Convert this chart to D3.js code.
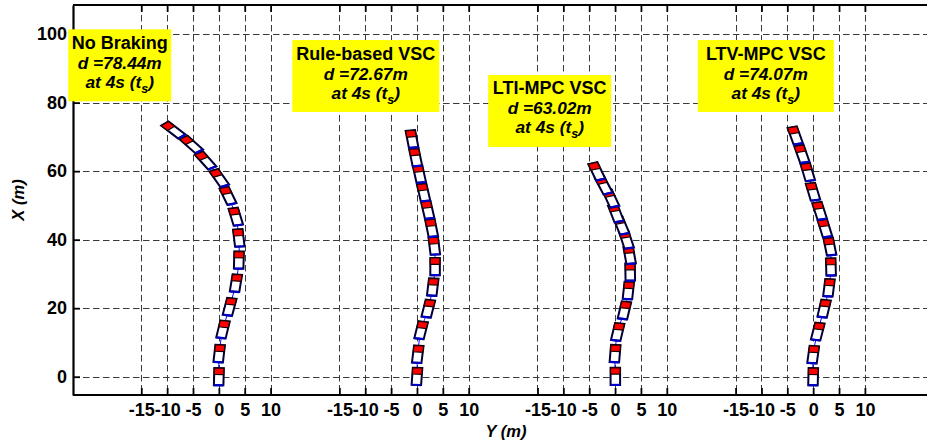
<!DOCTYPE html>
<html><head><meta charset="utf-8">
<script src="https://cdn.jsdelivr.net/npm/d3@7"></script>
<style>
body{margin:0;background:#fff}
svg{display:block}
text{font-family:"Liberation Sans",Arial,Helvetica,sans-serif;font-weight:bold;fill:#000}
</style>
</head><body>
<svg id="chart" width="927" height="445"></svg>
<script>
// ---------------- data ----------------
const controllers = ["No Braking", "Rule-based VSC", "LTI-MPC VSC", "LTV-MPC VSC"];
const distances = ["78.44", "72.67", "63.02", "74.07"];
const stopTime = "4s";
const groupOffsets = [0, 38.3, 76.6, 114.9];        // lateral shift of each panel (m)
const lateralTickValues = [-15, -10, -5, 0, 5, 10];  // Y (m)
const longTickValues = [0, 20, 40, 60, 80, 100];     // X (m)

// vehicle centre positions: lateral Y (m), longitudinal X (m), heading (deg)
const noBrakingY   = [0, 0.06, 0.8, 2.08, 3.3, 3.87, 3.85, 3.27, 1.77, 0.08, -2.56, -5.3, -8.8];
const noBrakingX   = [0, 6.76, 13.8, 20.4, 27.3, 34.05, 40.5, 46.7, 52.8, 58.0, 63.1, 67.8, 72.0];
const noBrakingPsi = [1, 4.4, 9.2, 10, 6.2, 0.9, -4.5, -11.5, -17.8, -25, -30.7, -36.8, -41];

const ruleY   = [0, 0.15, 0.8, 2.19, 3.05, 3.5, 3.35, 2.84, 2.08, 1.28, 0.47, -0.25, -0.96];
const ruleX   = [0.1, 6.56, 13.57, 19.88, 26.16, 32.15, 38.16, 43.37, 48.67, 53.77, 59.17, 63.97, 69.37];
const rulePsi = [2.7, 4.7, 9.4, 9.5, 4.6, 0, -4.6, -7.6, -8.7, -8.7, -8.4, -7.8, -7.4];

const ltiY   = [0.05, 0, 0.51, 1.81, 2.57, 2.92, 2.82, 2.2, 1.19, 0.16, -0.8, -2.19, -3.54];
const ltiX   = [0.1, 6.75, 13.07, 19.37, 25.15, 30.55, 35.46, 39.99, 44.12, 47.71, 52.03, 55.85, 59.94];
const ltiPsi = [0, 3.1, 9.0, 8.9, 4.1, -0.6, -6.7, -12.5, -15.3, -14.5, -17.2, -19.2, -17.6];

const ltvY   = [0, 0, 0.89, 2.11, 3.05, 3.43, 3.24, 2.28, 1.24, -0.04, -1.04, -2.18, -3.47];
const ltvX   = [0, 6.46, 13.18, 19.87, 25.96, 32.05, 37.97, 43.29, 48.39, 53.99, 59.69, 65.0, 70.4];
const ltvPsi = [0.9, 5.2, 9.7, 8.9, 4.7, -1.0, -7.6, -11.7, -12.1, -11.3, -11.3, -13.2, -13.5];

const seriesY   = [noBrakingY, ruleY, ltiY, ltvY];
const seriesX   = [noBrakingX, ruleX, ltiX, ltvX];
const seriesPsi = [noBrakingPsi, rulePsi, ltiPsi, ltvPsi];

// ---------------- layout ----------------
const W = 927, H = 445;
const plot = {left: 73, top: 5, right: 928, bottom: 395};
const svg = d3.select("#chart");

const x = d3.scaleLinear().domain([-28.2, 137.1]).range([plot.left, plot.right]);
const y = d3.scaleLinear().domain([-5.34, 108.5]).range([plot.bottom, plot.top]);

// ticks across all four panels
const xTicks = [];
groupOffsets.forEach(off => lateralTickValues.forEach(v => xTicks.push({pos: off + v, label: String(v)})));

// grid
const grid = svg.append("g").attr("stroke", "#3a3a3a").attr("stroke-width", 1)
  .attr("stroke-dasharray", "6.5,3.5").attr("fill", "none");
grid.selectAll("line.v").data(xTicks).join("line").attr("class", "v")
  .attr("x1", d => Math.round(x(d.pos)) + 0.5).attr("x2", d => Math.round(x(d.pos)) + 0.5)
  .attr("y1", plot.top).attr("y2", plot.bottom);
grid.selectAll("line.h").data(longTickValues).join("line").attr("class", "h")
  .attr("y1", d => Math.round(y(d)) + 0.5).attr("y2", d => Math.round(y(d)) + 0.5)
  .attr("x1", plot.left).attr("x2", W);

// trajectories and vehicles
const carHalfLen = 2.5, carHalfWid = 0.92, frontStart = 0.65;
function corner(off, cy, cx, psi, a, b) {
  const r = psi * Math.PI / 180;
  const Y = cy + a * Math.sin(r) + b * Math.cos(r);
  const X = cx + a * Math.cos(r) - b * Math.sin(r);
  return [x(off + Y), y(X)];
}
function poly(pts) { return "M" + pts.map(p => p[0].toFixed(2) + "," + p[1].toFixed(2)).join("L") + "Z"; }

const traj = d3.line().curve(d3.curveCatmullRom);
seriesY.forEach((ys, g) => {
  const off = groupOffsets[g];
  const xs = seriesX[g], ps = seriesPsi[g];
  const gg = svg.append("g");
  gg.append("path")
    .attr("d", traj(ys.map((v, i) => [x(off + v), y(xs[i])])))
    .attr("fill", "none").attr("stroke", "#0000ff").attr("stroke-width", 1);
  ys.forEach((v, i) => {
    const cx = xs[i], p = ps[i];
    const body = [corner(off, v, cx, p, -carHalfLen, -carHalfWid), corner(off, v, cx, p, carHalfLen, -carHalfWid),
                  corner(off, v, cx, p, carHalfLen, carHalfWid), corner(off, v, cx, p, -carHalfLen, carHalfWid)];
    gg.append("path").attr("d", poly(body)).attr("fill", "#fff").attr("stroke", "#000038").attr("stroke-width", 2);
    const rear = [corner(off, v, cx, p, -carHalfLen, -carHalfWid), corner(off, v, cx, p, -carHalfLen, carHalfWid)];
    gg.append("line").attr("x1", rear[0][0]).attr("y1", rear[0][1]).attr("x2", rear[1][0]).attr("y2", rear[1][1])
      .attr("stroke", "#0000c8").attr("stroke-width", 2.2);
    const front = [corner(off, v, cx, p, frontStart, -carHalfWid), corner(off, v, cx, p, carHalfLen, -carHalfWid),
                   corner(off, v, cx, p, carHalfLen, carHalfWid), corner(off, v, cx, p, frontStart, carHalfWid)];
    gg.append("path").attr("d", poly(front)).attr("fill", "#ff0000").attr("stroke", "#1a0000").attr("stroke-width", 1.2);
  });
});

// axes
const bottomAxis = d3.axisBottom(x).tickValues(xTicks.map(d => d.pos)).tickSizeInner(-7).tickSizeOuter(0)
  .tickPadding(8).tickFormat((d, i) => xTicks[i].label);
const gb = svg.append("g").attr("transform", `translate(0,${plot.bottom})`).call(bottomAxis);
const topAxis = d3.axisTop(x).tickValues(xTicks.map(d => d.pos)).tickSizeInner(-7).tickSizeOuter(0).tickFormat("");
const gt = svg.append("g").attr("transform", `translate(0,${plot.top})`).call(topAxis);
const leftAxis = d3.axisLeft(y).tickValues(longTickValues).tickSizeInner(-7).tickSizeOuter(0).tickPadding(6)
  .tickFormat(d => String(d));
const gl = svg.append("g").attr("transform", `translate(${plot.left},0)`).call(leftAxis);
[gb, gt, gl].forEach(a => {
  a.select(".domain").attr("stroke", "#000").attr("stroke-width", 2.2);
  a.selectAll(".tick line").attr("stroke", "#000").attr("stroke-width", 1.8);
  a.selectAll("text").attr("font-size", 18).attr("font-family", "'Liberation Sans', Arial, sans-serif")
    .attr("font-weight", "bold").attr("fill", "#000");
});
gb.select(".domain").attr("d", `M${plot.left},0H${W}`);
gt.select(".domain").attr("d", `M${plot.left},0H${W}`);

// axis labels
svg.append("text").attr("x", 506).attr("y", 437).attr("text-anchor", "middle")
  .attr("font-size", 16.5).attr("font-style", "italic").text("Y (m)");
svg.append("text").attr("transform", "translate(24,200) rotate(-90)").attr("text-anchor", "middle")
  .attr("font-size", 16.5).attr("font-style", "italic").text("X (m)");

// annotation boxes (anchored in data coordinates: centre lateral, top longitudinal)
const annot = [
  {lat: -19.17, top: 101.4, w: 103},
  {lat: 28.41, top: 98.28, w: 147},
  {lat: 63.96, top: 88.07, w: 123},
  {lat: 105.74, top: 98.28, w: 136}
];
controllers.forEach((name, i) => {
  const a = annot[i];
  const cx = x(a.lat), ty = y(a.top);
  const g = svg.append("g");
  g.append("rect").attr("x", cx - a.w / 2).attr("y", ty).attr("width", a.w).attr("height", 72).attr("fill", "#ffff00");
  g.append("text").attr("x", cx).attr("y", ty + 19.5).attr("text-anchor", "middle").attr("font-size", 18).text(name);
  g.append("text").attr("x", cx).attr("y", ty + 39.5).attr("text-anchor", "middle").attr("font-size", 17.3)
    .attr("font-style", "italic").text("d =" + distances[i] + "m");
  const t3 = g.append("text").attr("x", cx).attr("y", ty + 58.5).attr("text-anchor", "middle").attr("font-size", 17.3)
    .attr("font-style", "italic");
  t3.append("tspan").text("at " + stopTime + " (t");
  t3.append("tspan").attr("font-size", 12.5).attr("dy", 5).text("s");
  t3.append("tspan").attr("dy", -5).text(")");
});
</script>
</body></html>
